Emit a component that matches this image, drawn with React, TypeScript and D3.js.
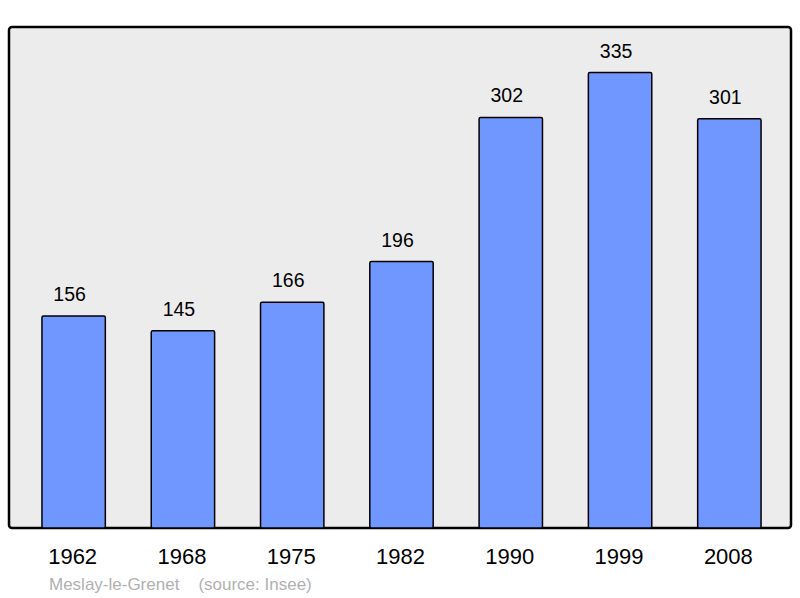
import * as d3 from 'd3';

const years = ['1962', '1968', '1975', '1982', '1990', '1999', '2008'];
const population = [156, 145, 166, 196, 302, 335, 301];
const place = 'Meslay-le-Grenet';
const source = '(source: Insee)';

export default function App() {
  const width = 800;
  const height = 598;
  const frame = { left: 9, top: 27, right: 791, bottom: 528 };

  const x = d3
    .scaleBand()
    .domain(years)
    .range([19, 784])
    .paddingInner(0.42)
    .paddingOuter(0.21);

  const y = d3
    .scaleLinear()
    .domain([0, d3.max(population)! * 1.1])
    .range([frame.bottom, frame.top]);

  const font = '"Liberation Sans", Arial, sans-serif';

  return (
    <svg
      width={width}
      height={height}
      style={{ position: 'absolute', left: 0, top: 0, fontFamily: font }}
    >
      <rect
        x={frame.left}
        y={frame.top}
        width={frame.right - frame.left}
        height={frame.bottom - frame.top}
        rx={3}
        fill="#ececec"
        stroke="#000"
        strokeWidth={2.5}
      />
      {years.map((yr, i) => (
        <g key={yr}>
          <rect
            x={x(yr)}
            y={y(population[i])}
            width={x.bandwidth()}
            height={y(0) - y(population[i])}
            rx={1.5}
            fill="#7096ff"
            stroke="#000"
            strokeWidth={1.5}
          />
          <text
            x={x(yr)! + x.bandwidth() / 2 - 4}
            y={y(population[i]) - 15}
            textAnchor="middle"
            fontSize={19.5}
            fill="#000"
          >
            {population[i]}
          </text>
          <text
            x={x(yr)! + x.bandwidth() / 2 - 1}
            y={564}
            textAnchor="middle"
            fontSize={22}
            fill="#000"
          >
            {yr}
          </text>
        </g>
      ))}
      <text x={49} y={590} fontSize={17} fill="#b0b0b0">
        {place}
        <tspan dx={19}>{source}</tspan>
      </text>
    </svg>
  );
}
